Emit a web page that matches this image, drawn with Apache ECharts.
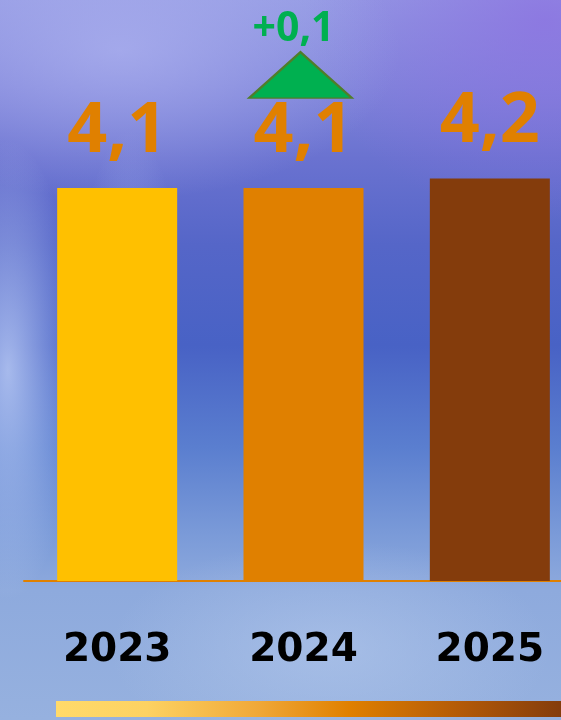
<!DOCTYPE html>
<html>
<head>
<meta charset="utf-8">
<script src="https://cdn.jsdelivr.net/npm/echarts@6/dist/echarts.min.js"></script>
<style>
  html, body { margin: 0; padding: 0; overflow: hidden; }
  #wrap {
    width: 561px; height: 720px; position: relative; overflow: hidden;
    background:
      radial-gradient(ellipse 70px 230px at 8px 370px, rgba(205,220,252,0.7), rgba(205,220,252,0) 100%),
      radial-gradient(ellipse 50px 170px at 130px 300px, rgba(190,205,250,0.4), rgba(190,205,250,0) 100%),
      radial-gradient(ellipse 280px 150px at 120px 50px, rgba(175,180,240,0.7), rgba(175,180,240,0) 100%),
      radial-gradient(ellipse 240px 200px at 545px 20px, rgba(140,112,225,0.75), rgba(140,112,225,0) 100%),
      radial-gradient(ellipse 220px 110px at 330px 650px, rgba(185,205,238,0.5), rgba(185,205,238,0) 100%),
      linear-gradient(to bottom, #9399e3 0%, #7f84da 12%, #6a72d0 22%, #5566c8 34%, #4862c5 48%, #5a7ecf 62%, #7a9ad8 74%, #8eaadd 82%, #96b1df 100%);
  }
  #chart { width: 620px; height: 720px; position: absolute; left: 0; top: 0; }
</style>
</head>
<body>
<div id="wrap"><div id="chart"></div></div>
<script>
// ---- data ----
const years = ['2023', '2024', '2025'];
const values = [4.1, 4.1, 4.2];
const barColors = ['#FFC000', '#E08000', '#843C0C'];
const changeYear = '2024';
const changeValue = 0.1;

function fmt(v) { return v.toFixed(1).replace('.', ','); }

const chart = echarts.init(document.getElementById('chart'), null, { renderer: 'canvas' });
const changeIdx = years.indexOf(changeYear);

chart.setOption({
  backgroundColor: 'transparent',
  animation: false,
  grid: { left: 24, top: 6, width: 559, height: 575, containLabel: false },
  xAxis: {
    type: 'category',
    data: years,
    axisLine: { show: true, lineStyle: { color: '#E08000', width: 2 } },
    axisTick: { show: false },
    axisLabel: {
      color: '#000', fontFamily: 'DejaVu Sans', fontWeight: 'bold', fontSize: 39, margin: 50
    },
    splitLine: { show: false }
  },
  yAxis: { type: 'value', min: 0, max: 6, show: false, splitLine: { show: false } },
  series: [{
    type: 'bar',
    barWidth: 120,
    data: values.map((v, i) => ({ value: v, itemStyle: { color: barColors[i] } })),
    label: {
      show: true, position: 'top', distance: 21,
      formatter: p => fmt(p.value),
      color: '#E08000', fontFamily: 'Open Sans', fontWeight: 'bold', fontSize: 70
    },
    markPoint: {
      silent: true,
      data: [{
        coord: [changeYear, values[changeIdx]],
        symbol: 'triangle',
        symbolSize: [103, 46],
        symbolOffset: [-3, -113],
        itemStyle: { color: '#00B050', borderColor: '#507D2A', borderWidth: 2 },
        label: {
          show: true, position: 'top', distance: 2, offset: [-7, 0],
          formatter: () => '+' + fmt(changeValue),
          color: '#00B050', fontFamily: 'Open Sans', fontWeight: 'bold', fontSize: 41
        }
      }]
    }
  }],
  graphic: [{
    type: 'rect',
    shape: { x: 56, y: 701, width: 505, height: 16 },
    style: {
      fill: new echarts.graphic.LinearGradient(0, 0, 1, 0, [
        { offset: 0, color: '#FFDA6A' },
        { offset: 0.18, color: '#FDD262' },
        { offset: 0.4, color: '#F0A838' },
        { offset: 0.58, color: '#E08000' },
        { offset: 0.8, color: '#B35A08' },
        { offset: 1, color: '#843C0C' }
      ])
    }
  }]
});
</script>
</body>
</html>
